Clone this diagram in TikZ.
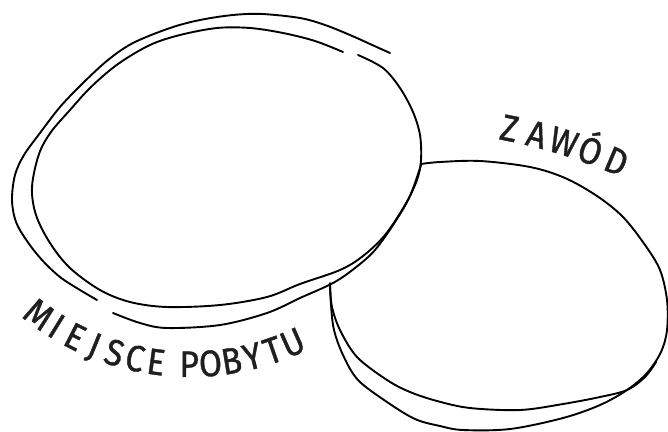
\documentclass[tikz,border=0pt]{standalone}
\usepackage{fontspec}
\setmainfont{Fira Sans}
\newfontfamily\lblfont{Fira Sans}[FakeStretch=0.9, FakeBold=1.0]
\newcommand\lblsize{\lblfont\fontsize{37}{37}\selectfont}
\newlength\chw
\begin{document}
\begin{tikzpicture}[x=1pt,y=-1pt,
  sketch/.style={line width=1.9pt, line cap=round, line join=round},
  lbl/.style={anchor=base, inner sep=0pt, text=black!88, font=\lblsize}]
\useasboundingbox (0,0) rectangle (668,431);
% left ellipse
\draw[sketch] plot[smooth, tension=0.55] coordinates {(343,52) (315,41) (283,33) (250,28) (217,28) (180,35) (150,45) (118,64) (91,87) (70,110) (51,132) (39,154) (32,187) (36,215) (50,243) (70,268) (100,290) (130,302) (167,307) (220,305) (267,297) (300,284) (340,270) (363,256) (385,235) (405,205) (417,180) (421,160) (420,135) (413,112) (400,88) (383,68) (358,55)};
\draw[sketch] plot[smooth, tension=0.55] coordinates {(390,53) (370,44) (350,35) (325,25) (300,18) (262,14) (233,15) (200,20) (170,28) (133,43) (108,60) (83,83) (60,107) (40,133) (24,155) (15,175) (12,200) (16,222) (27,241) (42,260) (60,277) (80,290) (97,300)};
\draw[sketch] plot[smooth, tension=0.55] coordinates {(113,313) (140,323) (167,328) (220,325) (267,313) (300,298) (333,283) (355,268) (375,250) (395,222) (410,196) (421,165)};
% right ellipse
\draw[sketch] plot[smooth, tension=0.55] coordinates {(421,164) (440,162) (480,161) (530,167) (565,178) (597,196) (623,217) (645,245) (660,270) (667,300) (667,330) (661,352) (647,373) (627,390) (600,405) (563,418) (510,429) (463,430) (440,426) (415,419) (387,402) (358,380) (343,355) (334,330) (331,305) (330,283)};
\draw[sketch] plot[smooth, tension=0.55] coordinates {(656,362) (645,377) (627,390) (600,397) (563,404) (520,410) (470,408) (437,401) (410,392) (387,380) (357,357) (340,330) (332,307) (330,286)};
% --- MIEJSCE POBYTU along a smile arc
\gdef\wsum{0}
\foreach \ch in {M,I,E,J,S,C,E,P,O,B,Y,T,U} {\settowidth{\chw}{\lblsize\ch}\pgfmathsetmacro\wacc{\wsum+\chw}\xdef\wsum{\wacc}}
\pgfmathsetmacro\trackm{(60.5*pi/180*254-\wsum-12)/12}
\xdef\trackm{\trackm}
\gdef\curang{-36.6}
\foreach \ch [count=\i] in {M,I,E,J,S,C,E} {
  \settowidth{\chw}{\lblsize\ch}
  \pgfmathsetmacro\angc{\curang+(\chw/2)/254*180/pi}
  \node[lbl, rotate=\angc] (m\i) at ({190+266*sin(\angc)},{111+266*cos(\angc)}) {\ch};
  \pgfmathsetmacro\nang{\curang+(\chw+\trackm)/254*180/pi}
  \xdef\curang{\nang}
}
\pgfmathsetmacro\nang{\curang+12/254*180/pi}\xdef\curang{\nang}
\foreach \ch [count=\i] in {P,O,B,Y,T,U} {
  \settowidth{\chw}{\lblsize\ch}
  \pgfmathsetmacro\angc{\curang+(\chw/2)/254*180/pi}
  \node[lbl, rotate=\angc] (p\i) at ({190+266*sin(\angc)},{111+266*cos(\angc)}) {\ch};
  \pgfmathsetmacro\nang{\curang+(\chw+\trackm)/254*180/pi}
  \xdef\curang{\nang}
}
% --- ZAWÓD along a gentle frown arc
\gdef\wsum{0}
\foreach \ch in {Z,A,W,Ó,D} {\settowidth{\chw}{\lblsize\ch}\pgfmathsetmacro\wacc{\wsum+\chw}\xdef\wsum{\wacc}}
\pgfmathsetmacro\trackz{(11.5*pi/180*558-\wsum)/4}
\xdef\trackz{\trackz}
\gdef\curang{11.4}
\foreach \ch [count=\i] in {Z,A,W,Ó,D} {
  \settowidth{\chw}{\lblsize\ch}
  \pgfmathsetmacro\angc{\curang+(\chw/2)/558*180/pi}
  \node[lbl, rotate=-\angc] (z\i) at ({399+546*sin(\angc)},{676-546*cos(\angc)}) {\ch};
  \pgfmathsetmacro\nang{\curang+(\chw+\trackz)/558*180/pi}
  \xdef\curang{\nang}
}
\end{tikzpicture}
\end{document}
